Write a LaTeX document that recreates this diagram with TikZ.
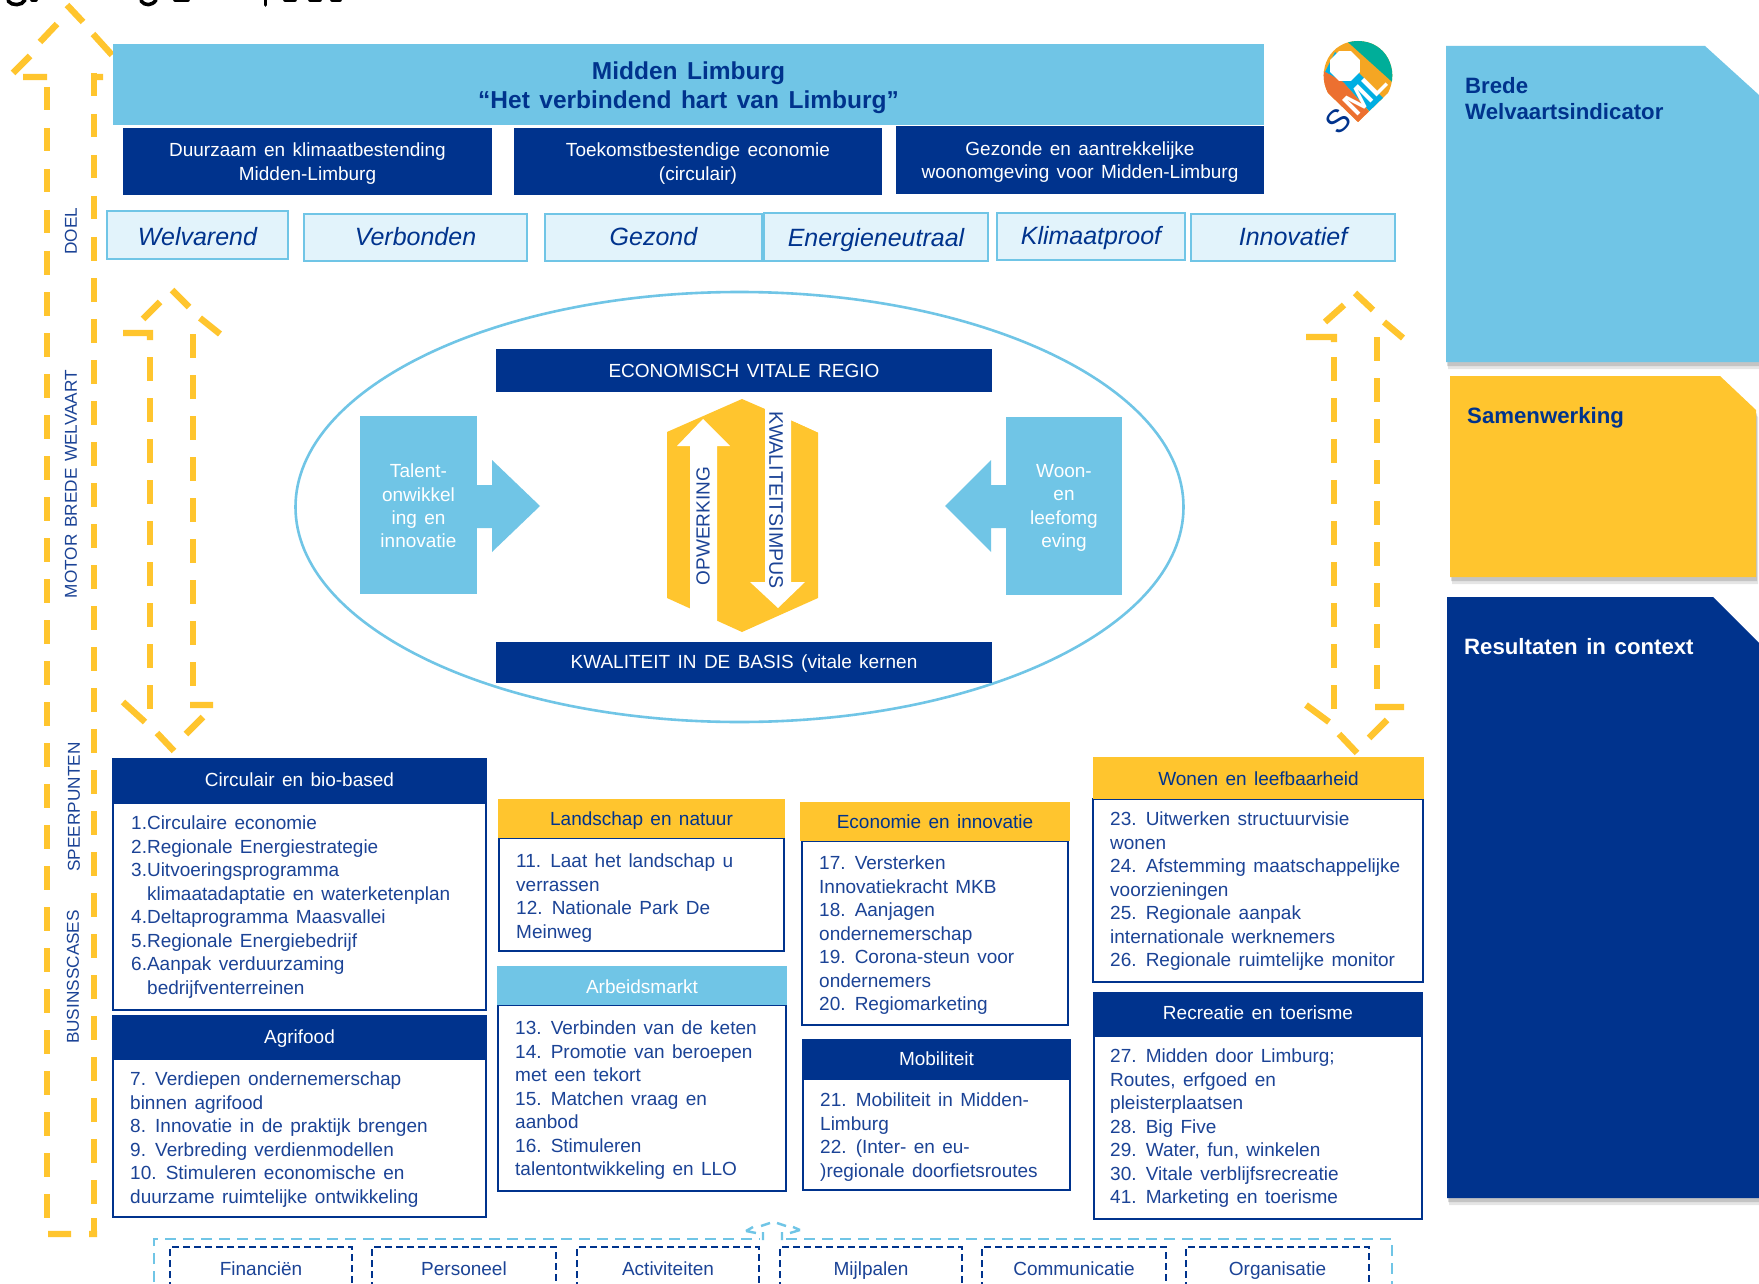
\documentclass[tikz,border=0pt]{standalone}
\usepackage{fontspec}
\setmainfont[WordSpace=1.4]{Liberation Sans}
\definecolor{navy}{HTML}{00338D}
\definecolor{txtblue}{HTML}{1B4396}
\definecolor{sky}{HTML}{70C5E6}
\definecolor{pale}{HTML}{E2F3FB}
\definecolor{sun}{HTML}{FFC52E}
\definecolor{logoamber}{HTML}{F5A623}
\definecolor{logoteal}{HTML}{00AE99}
\definecolor{logocyan}{HTML}{00AEE2}
\definecolor{logoorange}{HTML}{EC7030}
\newcommand{\lf}{\fontsize{19}{23.45}\selectfont}
\newcommand{\frbox}[6][]{%
  \pgfmathsetmacro\cx{(#3+#5)/2}\pgfmathsetmacro\cy{(#4+#6)/2}%
  \pgfmathsetmacro\ww{#5-#3}\pgfmathsetmacro\hh{#6-#4}%
  \node[#1,minimum width=\ww pt,minimum height=\hh pt,inner sep=0pt,outer sep=0pt] (#2) at (\cx,\cy) {};}
% box with its text; argument 7 moves the text down within the box
\newcommand{\rbox}[8][]{%
  \frbox[#1]{#2}{#3}{#4}{#5}{#6}%
  \pgfmathsetmacro\ty{\cy+#7}%
  \node[#1,draw=none,fill=none,inner sep=0pt,align=center] (#2t) at (\cx,\ty) {#8};}
\newcommand{\hang}{\hspace*{16pt}}
\tikzset{
  x=1pt,y=-1pt,
  bar/.style={fill=navy,text=white,font=\lf},
  val/.style={fill=pale,draw=sky,line width=2.6pt,text=navy,font=\fontsize{25}{30}\selectfont\itshape},
  hnavy/.style={fill=navy,text=white,font=\lf},
  hsun/.style={fill=sun,text=navy,font=\lf},
  hsky/.style={fill=sky,text=white,font=\lf},
  body/.style={draw=navy,line width=2.6pt,fill=white},
  lst/.style={anchor=north west,inner sep=0pt,align=left,font=\lf,text=txtblue},
  sidelab/.style={text=txtblue,font=\fontsize{17.2}{20}\selectfont,inner sep=0pt},
  ya/.style={draw=sun,line width=6.4pt,dash pattern=on 23.5pt off 17.5pt},
  yb/.style={draw=sun,line width=6.4pt},
  sblue/.style={draw=sky,line width=2.2pt,dash pattern=on 11pt off 7pt},
  sblues/.style={draw=sky,line width=2.4pt},
  snavy/.style={draw=navy,line width=2.2pt,dash pattern=on 7pt off 4pt},
  foot/.style={text=txtblue,font=\lf,anchor=base},
  ptitle/.style={anchor=north west,inner sep=0pt,align=left,font=\fontsize{22.2}{26}\selectfont\bfseries},
  inbox/.style={fill=sky,text=white,font=\lf}
}
\newcommand{\panel}[2]{%
  \fill[black,opacity=.10,shift={(2,7)}] #2;
  \fill[black,opacity=.14,shift={(1,4)}] #2;
  \fill[#1] #2;}
\begin{document}
\begin{tikzpicture}
\useasboundingbox (0,0) rectangle (1759,1284);
\clip (0,0) rectangle (1759,1284);
\fill[white] (0,0) rectangle (1759,1284);
% clipped remains of the heading
\begin{scope}[draw=black,line width=3.6pt,line cap=round]
\draw (8,1) .. controls (12,6) and (22,6) .. (25,0);
\draw (141,1) .. controls (145,6) and (152,6) .. (156,0);
\draw (265.5,0) -- (265.5,5);
\draw (32,0) -- (36,0);\draw (175,0) -- (188,0);\draw (285,0) -- (295,0);\draw (310,0) -- (320,0);\draw (332,0) -- (340,0);
\end{scope}
% large yellow dashed arrow
\draw[ya] (47,87) -- (47,1218);
\draw[ya] (94,73) -- (94,1220);
\draw[yb] (23,77) -- (47,77) (13,73) -- (30,56) (40,42) -- (57,24) (67,5) -- (83,22) (93,34) -- (112,55) (92,77) -- (103,77) (48,1234) -- (71,1234) (89,1234) -- (97,1234);
\draw[yb] (94,1218) -- (94,1237);
% left double arrow
\draw[ya] (150,357) -- (150,709);
\draw[ya] (193,334) -- (193,686);
\draw[yb] (123,333) -- (153,333) (150,333) -- (150,340) (143,319) -- (160,302) (172,290) -- (189,307) (200,318) -- (220,334);
\draw[yb] (123,702) -- (145,722) (157,733) -- (174,751) (186,734) -- (203,717) (190,705) -- (213,705);
% right double arrow
\draw[ya] (1334,357) -- (1334,709);
\draw[ya] (1377,337) -- (1377,689);
\draw[yb] (1306,337) -- (1337,337) (1334,337) -- (1334,342) (1325,322) -- (1344,305) (1355,293) -- (1373,310) (1384,322) -- (1403,338);
\draw[yb] (1306,705) -- (1329,722) (1339,734) -- (1357,753) (1369,738) -- (1387,720) (1375,707) -- (1404,707);
% top
\rbox[fill=sky,text=navy,font=\fontsize{24.5}{29}\selectfont\bfseries]{title}{113}{44}{1264}{125}{3}{Midden Limburg\\“Het verbindend hart van Limburg”}
\rbox[bar]{g1}{123}{128}{492}{195}{2}{Duurzaam en klimaatbestending\\Midden-Limburg}
\rbox[bar]{g2}{514}{128}{882}{195}{2}{Toekomstbestendige economie\\(circulair)}
\rbox[bar]{g3}{896}{126}{1264}{194}{2}{Gezonde en aantrekkelijke\\woonomgeving voor Midden-Limburg}
\rbox[val]{v1}{107}{211}{288}{259}{2}{Welvarend}
\rbox[val]{v2}{304}{214}{527}{261}{-1}{Verbonden}
\rbox[val]{v3}{545}{214}{762}{261}{-1}{Gezond}
\rbox[val]{v4}{764}{213}{988}{261}{3}{Energieneutraal}
\rbox[val]{v5}{997}{213}{1185}{260}{2}{Klimaatproof}
\rbox[val]{v6}{1191}{214}{1395}{261}{-1}{Innovatief}
% side labels
\node[sidelab,rotate=90] (l1) at (71,231) {DOEL};
\node[sidelab,rotate=90] (l2) at (71,484) {MOTOR BREDE WELVAART};
\node[sidelab,rotate=90] (l3) at (74,807) {SPEERPUNTEN};
\node[sidelab,rotate=90] (l4) at (73,977) {BUSINSSCASES};
% ellipse
\draw[sky,line width=2.6pt] (739.5,507) ellipse [x radius=444,y radius=215];
\rbox[bar]{eco}{496}{349}{992}{392}{0}{ECONOMISCH VITALE REGIO}
\rbox[bar]{kwa}{496}{642}{992}{683}{1}{KWALITEIT IN DE BASIS (vitale kernen}
% side arrows and boxes
\fill[sky] (477,485) -- (492,485) -- (492,460) -- (540,506) -- (492,552) -- (492,528) -- (477,528) -- cycle;
\rbox[inbox]{talent}{360}{416}{477}{594}{1}{Talent-\\onwikkel\\ing en\\innovatie}
\fill[sky] (1006,485) -- (991,485) -- (991,460) -- (945,506) -- (991,552) -- (991,528) -- (1006,528) -- cycle;
\rbox[inbox]{woon}{1006}{417}{1122}{595}{2}{Woon-\\en\\leefomg\\eving}
% hexagon
\fill[sun] (742,399) -- (818,432) -- (818,598) -- (742,632) -- (667,598) -- (667,432) -- cycle;
\fill[white] (690,640) -- (690,446) -- (677,446) -- (703,419) -- (730,446) -- (717,446) -- (717,640) -- cycle;
\fill[white] (765,393) -- (765,582) -- (750,582) -- (778,608) -- (805,582) -- (791,582) -- (791,393) -- cycle;
\fill[white] (791,393) -- (791,420) -- (830,438) -- (830,393) -- cycle;
\node[sidelab,rotate=90,font=\fontsize{19}{20}\selectfont] (opw) at (703,526) {OPWERKING};
\node[sidelab,rotate=-90,font=\fontsize{19.6}{20}\selectfont] (kwi) at (776,500) {KWALITEITSIMPUS};
% logo
\begin{scope}
\clip (1358,122) -- (1328,93) .. controls (1316,70) and (1330,41) .. (1358,41) .. controls (1386,41) and (1400,70) .. (1388,93) -- cycle;
\fill[logoamber] (1320,35) rectangle (1400,125);
\fill[logoteal] (1340,35) -- (1400,35) -- (1400,89) -- cycle;
\fill[logocyan] (1325,72) -- (1335,52) -- (1358,72) -- (1383,98) -- (1371,113) -- (1343,82) -- cycle;
\fill[logoorange] (1318,68) -- (1343,82) -- (1370,113) -- (1358,130) -- (1318,100) -- cycle;
\fill[white] (1359.8,72.1) -- (1351.1,80.8) -- (1338.9,80.8) -- (1330.2,72.1) -- (1330.2,59.9) -- (1338.9,51.2) -- (1351.1,51.2) -- (1359.8,59.9) -- cycle;
\end{scope}
\node[rotate=45,font=\fontsize{32}{34}\selectfont,inner sep=0pt] (sml) at (1356,103) {\textcolor{navy}{S}\hspace{5pt}\textcolor{white}{\bfseries ML}};
% right panels
\panel{sky}{(1446,46) -- (1705,46) -- (1759,95) -- (1759,362) -- (1446,362) -- cycle}
\panel{sun}{(1450,376) -- (1720,376) -- (1756,410) -- (1756,577) -- (1450,577) -- cycle}
\panel{navy}{(1447,597) -- (1713,597) -- (1759,643) -- (1759,1198) -- (1447,1198) -- cycle}
\node[ptitle,text=navy] (pb) at (1465,77) {Brede\\Welvaartsindicator};
\node[ptitle,text=navy] (ps) at (1467,407) {Samenwerking};
\node[ptitle,text=white] (pr) at (1464,638) {Resultaten in context};
% lower boxes
\frbox[body]{b1}{113}{803}{486}{1010}
\rbox[hnavy]{h1}{112}{758}{487}{803}{-1}{Circulair en bio-based}
\node[lst] (t1) at (131,816) {1.Circulaire economie\\2.Regionale Energiestrategie\\3.Uitvoeringsprogramma\\\hang klimaatadaptatie en waterketenplan\\4.Deltaprogramma Maasvallei\\5.Regionale Energiebedrijf\\6.Aanpak verduurzaming\\\hang bedrijfventerreinen};
\frbox[body]{b2}{113}{1059}{486}{1217}
\rbox[hnavy]{h2}{112}{1015}{487}{1059}{2}{Agrifood}
\node[lst] (t2) at (130,1072) {7. Verdiepen ondernemerschap\\binnen agrifood\\8. Innovatie in de praktijk brengen\\9. Verbreding verdienmodellen\\10. Stimuleren economische en\\duurzame ruimtelijke ontwikkeling};
\frbox[body]{b3}{499}{838}{784}{951}
\rbox[hsun]{h3}{498}{799}{785}{838}{2}{Landschap en natuur}
\node[lst] (t3) at (516,854) {11. Laat het landschap u\\verrassen\\12. Nationale Park De\\Meinweg};
\frbox[body]{b4}{498}{1005}{786}{1191}
\rbox[hsky]{h4}{497}{966}{787}{1005}{1}{Arbeidsmarkt}
\node[lst] (t4) at (515,1021) {13. Verbinden van de keten\\14. Promotie van beroepen\\met een tekort\\15. Matchen vraag en\\aanbod\\16. Stimuleren\\talentontwikkeling en LLO};
\frbox[body]{b5}{802}{841}{1068}{1025}
\rbox[hsun]{h5}{800}{802}{1070}{841}{0}{Economie en innovatie}
\node[lst] (t5) at (819,856) {17. Versterken\\Innovatiekracht MKB\\18. Aanjagen\\ondernemerschap\\19. Corona-steun voor\\ondernemers\\20. Regiomarketing};
\frbox[body]{b6}{803}{1079}{1070}{1190}
\rbox[hnavy]{h6}{802}{1039}{1071}{1079}{0}{Mobiliteit}
\node[lst] (t6) at (820,1093) {21. Mobiliteit in Midden-\\Limburg\\22. (Inter- en eu-\\)regionale doorfietsroutes};
\frbox[body]{b7}{1093}{799}{1423}{982}
\rbox[hsun]{h7}{1093}{757}{1424}{799}{1}{Wonen en leefbaarheid}
\node[lst] (t7) at (1110,812) {23. Uitwerken structuurvisie\\wonen\\24. Afstemming maatschappelijke\\voorzieningen\\25. Regionale aanpak\\internationale werknemers\\26. Regionale ruimtelijke monitor};
\frbox[body]{b8}{1094}{1036}{1422}{1219}
\rbox[hnavy]{h8}{1093}{992}{1423}{1036}{-1}{Recreatie en toerisme}
\node[lst] (t8) at (1110,1049) {27. Midden door Limburg;\\Routes, erfgoed en\\pleisterplaatsen\\28. Big Five\\29. Water, fun, winkelen\\30. Vitale verblijfsrecreatie\\41. Marketing en toerisme};
% bottom dashed frame with small arrow
\draw[sblue] (154,1300) -- (154,1239) -- (760,1239) (786,1239) -- (1392,1239) -- (1392,1300);
\draw[sblues] (746,1231) -- (756,1233) (746,1231) -- (753,1227) (761,1226) -- (770,1223) (777,1223) -- (786,1226) (790,1233) -- (800,1230) (800,1230) -- (793,1227) (763,1232) -- (763,1240) (782,1232) -- (782,1240);
\foreach \nm/\a/\b/\txt in {f1/170/352/Financiën,f2/372/556/Personeel,f3/577/759/Activiteiten,f4/780/962/Mijlpalen,f5/982/1166/Communicatie,f6/1186/1369/Organisatie}{
  \draw[snavy] (\a,1300) -- (\a,1247) -- (\b,1247) -- (\b,1300);
  \pgfmathsetmacro\mx{(\a+\b)/2}
  \node[foot] (\nm) at (\mx,1275) {\txt};
}
\end{tikzpicture}
\end{document}
